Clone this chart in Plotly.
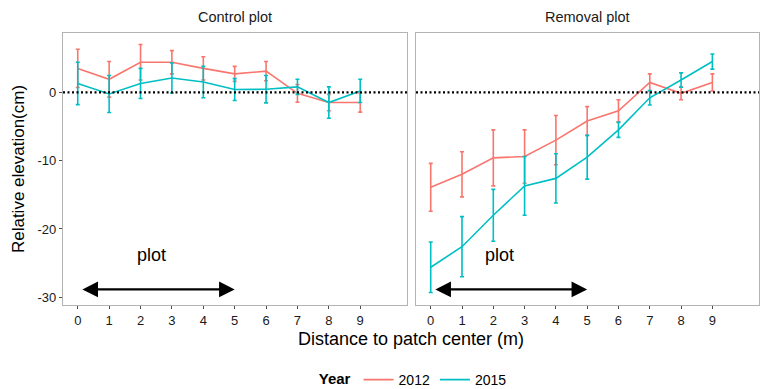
import plotly.graph_objects as go

# ---------------- data ----------------
distance = [0, 1, 2, 3, 4, 5, 6, 7, 8, 9]

control_2012 = [3.5, 1.9, 4.4, 4.4, 3.5, 2.7, 3.1, -0.15, -1.5, -1.5]
control_2012_err = [2.8, 2.6, 2.6, 1.7, 1.7, 1.1, 1.4, 1.3, 1.2, 1.4]
control_2015 = [1.3, -0.25, 1.3, 2.1, 1.5, 0.4, 0.45, 0.8, -1.5, 0.2]
control_2015_err = [3.1, 2.7, 2.2, 2.2, 2.3, 1.6, 2.0, 1.1, 2.3, 1.7]

removal_2012 = [-13.9, -12.0, -9.6, -9.4, -7.0, -4.2, -2.7, 1.45, -0.15, 1.45]
removal_2012_err = [3.5, 3.3, 4.1, 3.9, 3.6, 2.1, 1.6, 1.25, 0.95, 1.25]
removal_2015 = [-25.6, -22.6, -18.0, -13.7, -12.6, -9.5, -5.5, -0.8, 1.8, 4.5]
removal_2015_err = [3.7, 4.4, 3.8, 4.3, 3.6, 3.2, 1.1, 1.05, 1.05, 1.1]

years = ["2012", "2015"]
colors = ["#F8766D", "#00BFC4"]
panel_titles = ["Control plot", "Removal plot"]

x_ticks = [0, 1, 2, 3, 4, 5, 6, 7, 8, 9]
y_ticks = [0, -10, -20, -30]
y_tick_text = ["0", "-10", "-20", "-30"]

arrow_from, arrow_to, arrow_y = 0.1, 5.0, -28.85
plot_label = "plot"
plot_label_pos = [(2.35, -23.8), (2.2, -23.8)]

# --------------- figure ----------------
W, H = 760, 389
FONT = "Liberation Sans, Arial, Helvetica, sans-serif"

fig = go.Figure()

panels = [
    [(control_2012, control_2012_err), (control_2015, control_2015_err)],
    [(removal_2012, removal_2012_err), (removal_2015, removal_2015_err)],
]

for p, series in enumerate(panels):
    xa = "x" if p == 0 else "x2"
    ya = "y" if p == 0 else "y2"
    for s, (vals, errs) in enumerate(series):
        fig.add_trace(go.Scatter(
            x=distance, y=vals, mode="lines",
            line=dict(color=colors[s], width=1.6),
            error_y=dict(type="data", array=errs, visible=True,
                         color=colors[s], thickness=1.6, width=2),
            name=years[s], legendgroup=years[s], showlegend=(p == 0),
            xaxis=xa, yaxis=ya,
        ))

y_bot = 1 - 305 / H
y_top = 1 - 33 / H
xdoms = [[63 / W, 407 / W], [416 / W, 759 / W]]
xrng = [-0.47, 10.49]
yrng = [-31.13, 8.68]

axis_common = dict(showline=True, linecolor="#B3B3B3", linewidth=1.2, mirror=True,
                   showgrid=False, zeroline=False, ticklen=3,
                   tickcolor="#4D4D4D", tickwidth=1.2,
                   tickfont=dict(family=FONT, size=13, color="#1a1a1a"))

fig.update_layout(
    xaxis=dict(domain=xdoms[0], range=xrng, tickvals=x_ticks, anchor="y", ticks="outside",
               **axis_common),
    xaxis2=dict(domain=xdoms[1], range=xrng, tickvals=x_ticks, anchor="y2", ticks="outside",
                **axis_common),
    yaxis=dict(domain=[y_bot, y_top], range=yrng, tickvals=y_ticks, ticktext=y_tick_text,
               anchor="x", ticks="outside",
               title=dict(text="Relative elevation(cm)", standoff=8,
                          font=dict(family=FONT, size=17, color="#000")),
               **axis_common),
    yaxis2=dict(domain=[y_bot, y_top], range=yrng, tickvals=y_ticks, anchor="x2",
                showticklabels=False, ticks="", **axis_common),
)

# dotted zero lines
for p in range(2):
    xr = "x domain" if p == 0 else "x2 domain"
    yr = "y" if p == 0 else "y2"
    fig.add_shape(type="line", xref=xr, yref=yr, x0=0, x1=1, y0=0, y1=0,
                  line=dict(color="black", width=2.2, dash="2px,2.5px"))

# arrows and labels
for p in range(2):
    xr = "x" if p == 0 else "x2"
    yr = "y" if p == 0 else "y2"
    fig.add_annotation(x=arrow_to, y=arrow_y, ax=arrow_from, ay=arrow_y,
                       xref=xr, yref=yr, axref=xr, ayref=yr, text="",
                       showarrow=True, arrowhead=2, arrowside="end+start",
                       arrowsize=1.3, arrowwidth=2.4, arrowcolor="black")
    lx, ly = plot_label_pos[p]
    fig.add_annotation(x=lx, y=ly, xref=xr, yref=yr, text=plot_label, showarrow=False,
                       xanchor="center", yanchor="middle",
                       font=dict(family=FONT, size=18, color="black"))

# panel titles
for p in range(2):
    fig.add_annotation(x=(xdoms[p][0] + xdoms[p][1]) / 2, y=1 - 16.5 / H,
                       xref="paper", yref="paper", text=panel_titles[p], showarrow=False,
                       xanchor="center", yanchor="middle",
                       font=dict(family=FONT, size=14.5, color="#1a1a1a"))

# shared x title
fig.add_annotation(x=(xdoms[0][0] + xdoms[1][1]) / 2, y=1 - 339 / H, xref="paper", yref="paper",
                   text="Distance to patch center (m)", showarrow=False,
                   xanchor="center", yanchor="middle",
                   font=dict(family=FONT, size=18, color="#000"))

fig.update_layout(
    width=W, height=H, margin=dict(l=0, r=0, t=0, b=0, autoexpand=False),
    paper_bgcolor="white", plot_bgcolor="white",
    font=dict(family=FONT),
    legend=dict(orientation="h", x=0.545, xanchor="center", y=-7 / H, yanchor="bottom",
                title=dict(text="<b>Year</b>", font=dict(family=FONT, size=15, color="#000")),
                font=dict(family=FONT, size=14, color="#000"),
                itemwidth=30, bgcolor="rgba(0,0,0,0)"),
)

fig.write_html("out.html")
